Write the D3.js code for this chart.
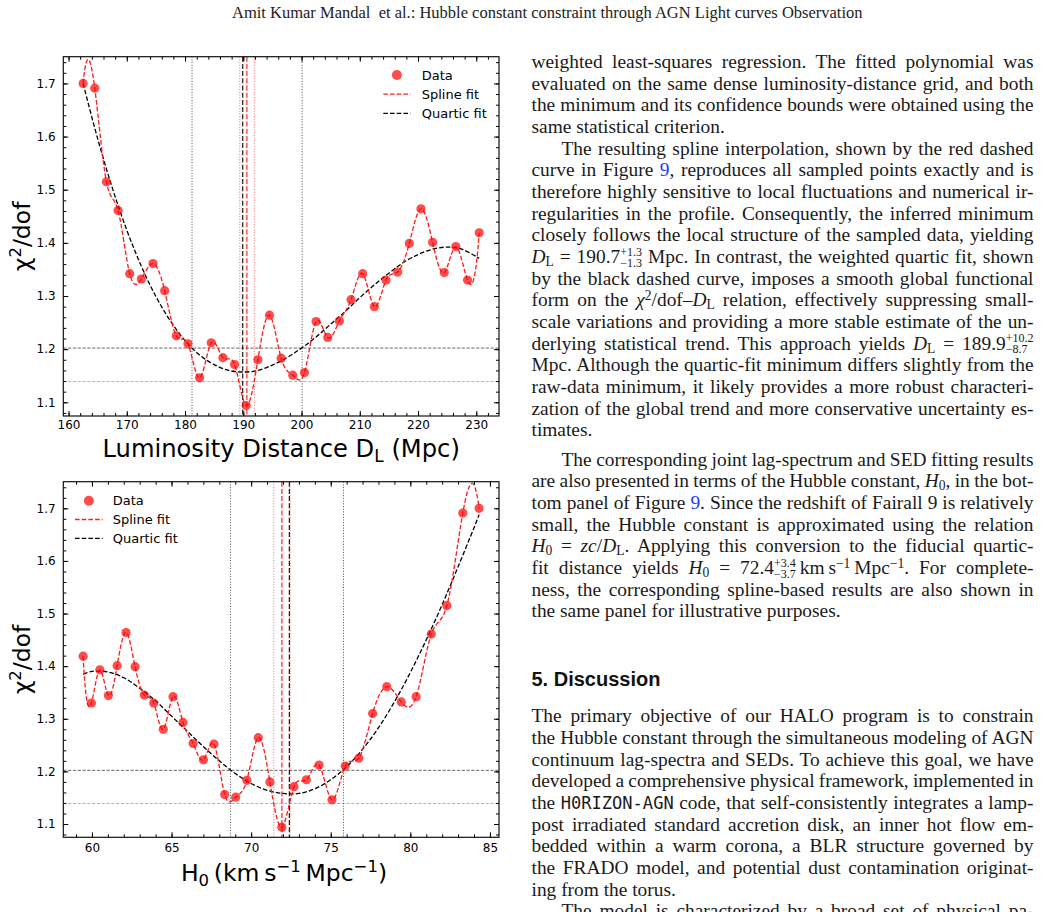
<!DOCTYPE html>
<html><head><meta charset="utf-8">
<script src="https://cdn.jsdelivr.net/npm/d3@7/dist/d3.min.js"></script>
<style>
html,body{margin:0;padding:0;background:#fff;}
body{width:1048px;height:912px;overflow:hidden;position:relative;}
svg{position:absolute;left:0;top:0;}
.hdr{position:absolute;left:232px;top:0;height:26px;line-height:26px;font-family:"Liberation Serif",serif;font-size:16.5px;white-space:pre;color:#222;}
.ln{position:absolute;left:531.5px;width:502px;height:22px;line-height:22px;font-family:"Liberation Serif",serif;font-size:19.4px;color:#1a1a1a;white-space:nowrap;}
.ln .t{white-space:nowrap;}
.ln.ind .t{padding-left:30px;}
.ln sub{font-size:0.7em;vertical-align:-0.22em;line-height:0;}
.ln sup{font-size:0.7em;vertical-align:0.45em;line-height:0;}
.ref{color:#1f3cff;}
.tt{font-family:"DejaVu Sans Mono",monospace;font-size:0.88em;}
.ss{display:inline-flex;flex-direction:column;font-size:0.62em;line-height:0.92em;vertical-align:0.6em;}
.head{position:absolute;left:531.5px;font-family:"Liberation Sans",Arial,sans-serif;font-weight:bold;font-size:20px;color:#111;height:24px;line-height:24px;}
</style>
</head><body>
<script>
// ---------------- data ----------------
const lumDist = [162.5,164.5,166.5,168.5,170.5,172.5,174.5,176.5,178.5,180.5,182.5,184.5,186.5,188.5,190.5,192.5,194.5,196.5,198.5,200.5,202.5,204.5,206.5,208.5,210.5,212.5,214.5,216.5,218.5,220.5,222.5,224.5,226.5,228.5,230.5];
const chi2Dist = [1.700,1.691,1.515,1.461,1.342,1.332,1.361,1.310,1.225,1.210,1.146,1.212,1.184,1.171,1.094,1.180,1.264,1.183,1.151,1.156,1.252,1.222,1.253,1.293,1.342,1.280,1.330,1.345,1.399,1.464,1.401,1.344,1.393,1.330,1.419];
const quarticDistX = [162.5,165,167.5,170,172.5,175,177.5,180,182.5,185,187.5,190,192.5,195,197.5,200,202.5,205,207.5,210,212.5,215,217.5,220,222.5,225,227.5,230.5];
const quarticDistY = [1.700,1.596,1.504,1.424,1.356,1.299,1.253,1.216,1.189,1.171,1.160,1.157,1.160,1.170,1.184,1.202,1.223,1.247,1.271,1.297,1.321,1.343,1.363,1.378,1.388,1.392,1.388,1.371];

const hubble = [59.445,59.965,60.494,61.033,61.582,62.141,62.709,63.289,63.879,64.480,65.093,65.717,66.354,67.002,67.664,68.339,69.028,69.730,70.447,71.179,71.927,72.690,73.469,74.266,75.079,75.911,76.762,77.632,78.522,79.432,80.364,81.318,82.294,83.295,84.320];
const chi2Hubble = [1.419,1.330,1.393,1.344,1.401,1.464,1.399,1.345,1.330,1.280,1.342,1.293,1.253,1.222,1.252,1.156,1.151,1.183,1.264,1.180,1.094,1.171,1.184,1.212,1.146,1.210,1.225,1.310,1.361,1.332,1.342,1.461,1.515,1.691,1.700];
const quarticHubX = [59.445,60,61,62,63,64,65,66,67,68,69,70,71,72,73,74,75,76,77,78,79,80,81,82,83,84,84.32];
const quarticHubY = [1.385,1.390,1.389,1.378,1.358,1.334,1.305,1.276,1.247,1.220,1.196,1.177,1.164,1.158,1.158,1.167,1.184,1.209,1.242,1.283,1.332,1.388,1.450,1.517,1.589,1.663,1.688];

// fit results (best, lower, upper) and chi2 thresholds
const distQuartic = [189.9, 181.2, 200.1];
const distSpline  = [190.6, 189.4, 191.9];
const hubQuartic  = [72.4, 68.7, 75.8];
const hubSpline   = [71.93, 71.42, 72.45];
const thresholds  = [1.202, 1.139];   // quartic, spline

const distTicks = [160,170,180,190,200,210,220,230];
const hubTicks  = [60,65,70,75,80,85];
const chiTicks  = [1.1,1.2,1.3,1.4,1.5,1.6,1.7];
const legendLabels = ["Data","Spline fit","Quartic fit"];

// ---------------- drawing ----------------
const svg = d3.select("body").append("svg").attr("width",1048).attr("height",912);
const PT = "rgba(255,0,0,0.7)";

function notAKnot(xs, ys){
  const n = xs.length, h = [], d = [];
  for (let i=0;i<n-1;i++){ h.push(xs[i+1]-xs[i]); d.push((ys[i+1]-ys[i])/h[i]); }
  const A = Array.from({length:n},()=>new Array(n).fill(0)), b = new Array(n).fill(0);
  A[0][0]=h[1]; A[0][1]=-(h[0]+h[1]); A[0][2]=h[0];
  for (let i=1;i<n-1;i++){ A[i][i-1]=h[i-1]; A[i][i]=2*(h[i-1]+h[i]); A[i][i+1]=h[i]; b[i]=6*(d[i]-d[i-1]); }
  A[n-1][n-3]=h[n-2]; A[n-1][n-2]=-(h[n-3]+h[n-2]); A[n-1][n-1]=h[n-3];
  for (let c=0;c<n;c++){
    let piv=c; for (let r=c+1;r<n;r++) if (Math.abs(A[r][c])>Math.abs(A[piv][c])) piv=r;
    [A[c],A[piv]]=[A[piv],A[c]]; [b[c],b[piv]]=[b[piv],b[c]];
    for (let r=c+1;r<n;r++){ const f=A[r][c]/A[c][c]; if(!f) continue; for(let k=c;k<n;k++) A[r][k]-=f*A[c][k]; b[r]-=f*b[c]; }
  }
  const M = new Array(n).fill(0);
  for (let r=n-1;r>=0;r--){ let s=b[r]; for(let k=r+1;k<n;k++) s-=A[r][k]*M[k]; M[r]=s/A[r][r]; }
  return {h,d,M};
}
function splinePath(xs, ys, x, y){
  const {h,d,M} = notAKnot(xs,ys), p = d3.path();
  p.moveTo(x(xs[0]), y(ys[0]));
  for (let i=0;i<xs.length-1;i++){
    const m0 = d[i]-h[i]*(2*M[i]+M[i+1])/6, m1 = d[i]+h[i]*(M[i]+2*M[i+1])/6;
    p.bezierCurveTo(x(xs[i]+h[i]/3), y(ys[i]+m0*h[i]/3), x(xs[i+1]-h[i]/3), y(ys[i+1]-m1*h[i]/3), x(xs[i+1]), y(ys[i+1]));
  }
  return p.toString();
}

function panel(p){
  const x = d3.scaleLinear().domain(p.xlim).range([p.L,p.R]);
  const y = d3.scaleLinear().domain(p.ylim).range([p.B,p.T]);
  const g = svg.append("g");
  svg.append("clipPath").attr("id","clip"+p.id).append("rect")
     .attr("x",p.L).attr("y",p.T).attr("width",p.R-p.L).attr("height",p.B-p.T);
  const pg = g.append("g").attr("clip-path",`url(#clip${p.id})`);
  const hline = (v,col,w,da)=>pg.append("line").attr("x1",p.L).attr("x2",p.R).attr("y1",y(v)).attr("y2",y(v))
      .attr("stroke",col).attr("stroke-width",w).attr("stroke-dasharray",da);
  const vline = (v,col,w,da,op)=>pg.append("line").attr("x1",x(v)).attr("x2",x(v)).attr("y1",p.T).attr("y2",p.B)
      .attr("stroke",col).attr("stroke-width",w).attr("stroke-dasharray",da).attr("opacity",op);
  hline(thresholds[0],"#555",0.9,"3.2,1.6");
  hline(thresholds[1],"#b4b4b4",1,"3.2,1.6");
  vline(p.quartic[1],"#333",1,"1,1.7",0.85);
  vline(p.quartic[2],"#333",1,"1,1.7",0.85);
  vline(p.spline[1],"#ff0000",1,"1,1.7",0.6);
  vline(p.spline[2],"#ff0000",1,"1,1.7",0.6);
  vline(p.spline[0],"#ff0000",1.8,"5,2.2",0.6);
  vline(p.quartic[0],"#000",1.2,"5,2.2",0.9);
  pg.append("path").datum(d3.zip(p.qx,p.qy))
    .attr("d",d3.line().x(d=>x(d[0])).y(d=>y(d[1])).curve(d3.curveCatmullRom.alpha(0.5)))
    .attr("fill","none").attr("stroke","#000").attr("stroke-width",1.3).attr("stroke-dasharray","4.6,2.1");
  pg.append("path").attr("d",splinePath(p.xs,p.ys,x,y))
    .attr("fill","none").attr("stroke","#ff1a1a").attr("stroke-width",1.3).attr("stroke-dasharray","4.6,2.1");
  pg.selectAll("circle.pt").data(d3.zip(p.xs,p.ys)).join("circle").attr("class","pt")
    .attr("cx",d=>x(d[0])).attr("cy",d=>y(d[1])).attr("r",4.6).attr("fill",PT);

  // axes
  const style = sel => { sel.select(".domain").remove(); sel.selectAll("line").attr("stroke","#000").attr("stroke-width",1);
      sel.selectAll("text").attr("font-family","DejaVu Sans").attr("font-size",12).attr("fill","#000"); sel.attr("font-family",null).attr("font-size",null); };
  const yMinor = d3.range(54,88).map(v=>v/50);
  g.append("g").attr("transform",`translate(0,${p.B})`).call(d3.axisBottom(x).tickValues(p.xMinor).tickSize(-3).tickFormat("")).call(style);
  g.append("g").attr("transform",`translate(0,${p.B})`).call(d3.axisBottom(x).tickValues(p.xTicks).tickSize(-5).tickPadding(p.xPad).tickFormat(d3.format("d"))).call(style);
  g.append("g").attr("transform",`translate(0,${p.T})`).call(d3.axisTop(x).tickValues(p.xMinor).tickSize(-3).tickFormat("")).call(style);
  g.append("g").attr("transform",`translate(0,${p.T})`).call(d3.axisTop(x).tickValues(p.xTicks).tickSize(-5).tickFormat("")).call(style);
  g.append("g").attr("transform",`translate(${p.L},0)`).call(d3.axisLeft(y).tickValues(yMinor).tickSize(-3).tickFormat("")).call(style);
  g.append("g").attr("transform",`translate(${p.L},0)`).call(d3.axisLeft(y).tickValues(chiTicks).tickSize(-5).tickPadding(7.6).tickFormat(d3.format(".1f"))).call(style);
  g.append("g").attr("transform",`translate(${p.R},0)`).call(d3.axisRight(y).tickValues(yMinor).tickSize(-3).tickFormat("")).call(style);
  g.append("g").attr("transform",`translate(${p.R},0)`).call(d3.axisRight(y).tickValues(chiTicks).tickSize(-5).tickFormat("")).call(style);
  g.append("rect").attr("x",p.L).attr("y",p.T).attr("width",p.R-p.L).attr("height",p.B-p.T)
    .attr("fill","none").attr("stroke","#111").attr("stroke-width",1.2);

  // y label
  const yl = g.append("text").attr("transform",`translate(${p.L-33},${(p.T+p.B)/2}) rotate(-90)`)
    .attr("text-anchor","middle").attr("font-family","DejaVu Sans").attr("font-size",23.5).attr("fill","#000");
  yl.append("tspan").text("χ");
  yl.append("tspan").attr("font-size",16.5).attr("dy",-9).text("2");
  yl.append("tspan").attr("dy",9).text("/dof");

  // legend
  const lg = g.append("g").attr("font-family","DejaVu Sans").attr("font-size",13);
  legendLabels.forEach((lab,i)=>{
    const ry = p.leg.y + i*p.leg.dy;
    if (i===0) lg.append("circle").attr("cx",(p.leg.x0+p.leg.x1)/2).attr("cy",ry).attr("r",5).attr("fill",PT);
    else lg.append("line").attr("x1",p.leg.x0).attr("x2",p.leg.x1).attr("y1",ry).attr("y2",ry)
        .attr("stroke",i===1?"#ff1a1a":"#000").attr("stroke-width",1.3).attr("stroke-dasharray","4.6,2.1");
    lg.append("text").attr("x",p.leg.tx).attr("y",ry+4.6).text(lab);
  });
  return {g,x,y};
}

const topPanel = panel({id:"a",L:63.3,R:499,T:56.7,B:416,xlim:[159.1,233.9],ylim:[1.0742,1.7503],
  xs:lumDist,ys:chi2Dist,qx:quarticDistX,qy:quarticDistY,quartic:distQuartic,spline:distSpline,
  xTicks:distTicks,xMinor:d3.range(160,234,2),xPad:4.6,
  leg:{x0:383.3,x1:410.5,tx:421.7,y:75,dy:19.2}});
const xl1 = topPanel.g.append("text").attr("x",281.2).attr("y",456.7).attr("text-anchor","middle")
  .attr("font-family","DejaVu Sans").attr("font-size",24.2).attr("fill","#000");
xl1.append("tspan").text("Luminosity Distance D");
xl1.append("tspan").attr("font-size",17).attr("dy",5).text("L");
xl1.append("tspan").attr("dy",-5).text(" (Mpc)");

const botPanel = panel({id:"b",L:63.3,R:499,T:481.7,B:837.3,xlim:[58.2,85.57],ylim:[1.0747,1.7506],
  xs:hubble,ys:chi2Hubble,qx:quarticHubX,qy:quarticHubY,quartic:hubQuartic,spline:hubSpline,
  xTicks:hubTicks,xMinor:d3.range(59,86),xPad:6.6,
  leg:{x0:75,x1:102.7,tx:112.7,y:500.7,dy:18.8}});
const xl2 = botPanel.g.append("text").attr("x",284).attr("y",880.5).attr("text-anchor","middle")
  .attr("font-family","DejaVu Sans").attr("font-size",23.5).attr("fill","#000");
xl2.append("tspan").text("H");
xl2.append("tspan").attr("font-size",16.5).attr("dy",5).text("0");
xl2.append("tspan").attr("dy",-5).text("\u2009(km\u2009s");
xl2.append("tspan").attr("font-size",16.5).attr("dy",-9).text("−1");
xl2.append("tspan").attr("dy",9).text("\u2009Mpc");
xl2.append("tspan").attr("font-size",16.5).attr("dy",-9).text("−1");
xl2.append("tspan").attr("dy",9).text(")");

// ---------------- page text ----------------
const hdr = document.createElement("div"); hdr.className="hdr";
hdr.textContent = "Amit Kumar Mandal  et al.: Hubble constant constraint through AGN Light curves Observation";
document.body.appendChild(hdr);

const ss = (a,b)=>`<span class="ss"><span>${a}</span><span>${b}</span></span>`;
const DLm = `<i>D</i><sub>L</sub>`, H0m = `<i>H</i><sub>0</sub>`;
const blocks = [
 {base:68.3, lines:[
  ["j","weighted least-squares regression. The fitted polynomial was"],
  ["j","evaluated on the same dense luminosity-distance grid, and both"],
  ["j","the minimum and its confidence bounds were obtained using the"],
  ["l","same statistical criterion."],
  ["ji","The resulting spline interpolation, shown by the red dashed"],
  ["j",`curve in Figure <span class="ref">9</span>, reproduces all sampled points exactly and is`],
  ["j","therefore highly sensitive to local fluctuations and numerical ir-"],
  ["j","regularities in the profile. Consequently, the inferred minimum"],
  ["j","closely follows the local structure of the sampled data, yielding"],
  ["j",`${DLm} = 190.7${ss("+1.3","−1.3")} Mpc. In contrast, the weighted quartic fit, shown`],
  ["j","by the black dashed curve, imposes a smooth global functional"],
  ["j",`form on the <i>χ</i><sup>2</sup>/dof–${DLm} relation, effectively suppressing small-`],
  ["j","scale variations and providing a more stable estimate of the un-"],
  ["j",`derlying statistical trend. This approach yields ${DLm} = 189.9${ss("+10.2","−8.7")}`],
  ["j","Mpc. Although the quartic-fit minimum differs slightly from the"],
  ["j","raw-data minimum, it likely provides a more robust characteri-"],
  ["j","zation of the global trend and more conservative uncertainty es-"],
  ["l","timates."]]},
 {base:466, lines:[
  ["ji","The corresponding joint lag-spectrum and SED fitting results"],
  ["j",`are also presented in terms of the Hubble constant, ${H0m}, in the bot-`],
  ["j",`tom panel of Figure <span class="ref">9</span>. Since the redshift of Fairall 9 is relatively`],
  ["j","small, the Hubble constant is approximated using the relation"],
  ["j",`${H0m} = <i>zc</i>/${DLm}. Applying this conversion to the fiducial quartic-`],
  ["j",`fit distance yields ${H0m} = 72.4${ss("+3.4","−3.7")}\u2009km\u2009s<sup>−1</sup>\u2009Mpc<sup>−1</sup>. For complete-`],
  ["j","ness, the corresponding spline-based results are also shown in"],
  ["l","the same panel for illustrative purposes."]]},
 {base:722.7, lines:[
  ["j","The primary objective of our HALO program is to constrain"],
  ["j","the Hubble constant through the simultaneous modeling of AGN"],
  ["j","continuum lag-spectra and SEDs. To achieve this goal, we have"],
  ["j","developed a comprehensive physical framework, implemented in"],
  ["j",`the <span class="tt">H0RIZON-AGN</span> code, that self-consistently integrates a lamp-`],
  ["j","post irradiated standard accretion disk, an inner hot flow em-"],
  ["j","bedded within a warm corona, a BLR structure governed by"],
  ["j","the FRADO model, and potential dust contamination originat-"],
  ["l","ing from the torus."],
  ["ji","The model is characterized by a broad set of physical pa-"]]}
];
const LH = 21.67, BASE_OFF = 17.4;
const lineEls = [];
blocks.forEach(bk=>bk.lines.forEach((ln,i)=>{
  const d = document.createElement("div");
  d.className = "ln" + (ln[0].includes("i")?" ind":"");
  d.style.top = (bk.base + i*LH - BASE_OFF) + "px";
  d.innerHTML = `<span class="t">${ln[1]}</span>`;
  document.body.appendChild(d);
  if (ln[0].startsWith("j")) lineEls.push(d);
}));
const head = document.createElement("div"); head.className="head";
head.style.top = (685.7-18.5)+"px"; head.textContent = "5. Discussion";
document.body.appendChild(head);

function justify(){
  lineEls.forEach(d=>{
    const t = d.querySelector(".t"); t.style.wordSpacing = "0px";
    const w = t.getBoundingClientRect().width;
    const n = (t.textContent.trim().replace(/ +/g," ").match(/ /g)||[]).length;
    if (n) t.style.wordSpacing = ((502 - w)/n) + "px";
  });
}
justify();
if (document.fonts && document.fonts.ready) document.fonts.ready.then(justify);
</script>
</body></html>
